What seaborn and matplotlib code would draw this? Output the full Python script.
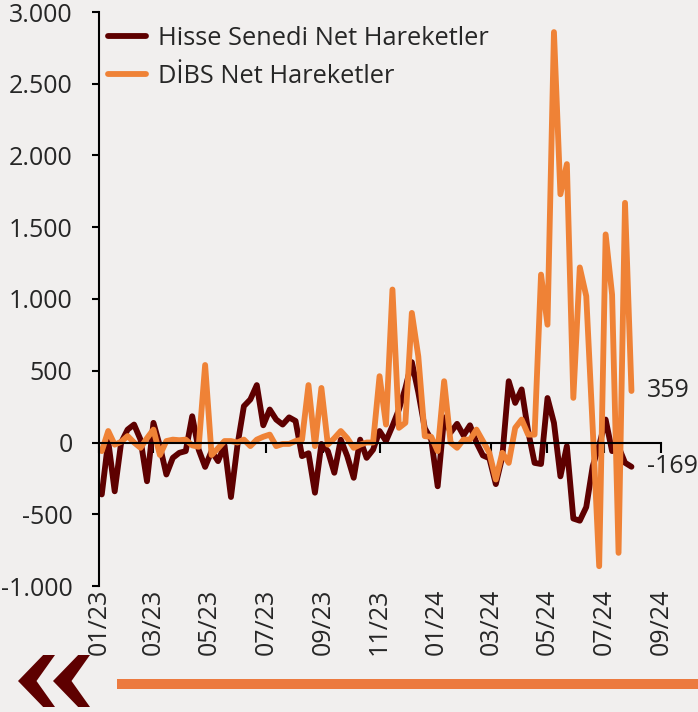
import numpy as np
import pandas as pd
import matplotlib
matplotlib.use("Agg")
import matplotlib.pyplot as plt
import matplotlib.dates as mdates
from matplotlib.patches import Polygon, Rectangle
from matplotlib.ticker import FuncFormatter
from matplotlib.lines import Line2D
import seaborn as sns

# ---- data (weekly, USD mn) ----
start_date = "2023-01-04"
n_weeks = 83
hisse = [-362, 10, -340, 0, 90, 125, 20, -270, 137, -25,
         -223, -107, -72, -60, 183, -50, -170, -60, -130, -20,
         -380, -20, 253, 300, 400, 120, 230, 160, 125, 175,
         150, -95, -75, -350, -10, -60, -211, 20, -95, -246,
         20, -107, -50, 80, 10, 115, 230, 380, 560, 350,
         100, 20, -305, 175, 70, 130, 50, 120, 0, -90,
         -110, -290, -100, 427, 276, 370, 80, -142, -150, 310,
         137, -236, -25, -530, -545, -450, -165, -20, 160, -60,
         -30, -141, -169]
dibs = [-60, 80, -15, 5, 45, 0, -37, 30, 90, -87,
        10, 20, 16, 20, -20, -30, 540, -87, -40, 10,
        10, 0, 20, -25, 20, 40, 55, -25, -10, -10,
        10, 20, 400, -25, 380, -15, 30, 80, 30, -37,
        -15, 0, 0, 462, 125, 1066, 102, 137, 903, 600,
        44, 40, -60, 427, 0, -37, 20, 20, 90, 10,
        -72, -258, -72, -142, 102, 160, 55, 55, 1170, 821,
        2860, 1730, 1940, 311, 1220, 1020, 100, -862, 1450, 1030,
        -769, 1670, 359]
series_names = ["Hisse Senedi Net Hareketler", "DİBS Net Hareketler"]
y_ticks = [-1000, -500, 0, 500, 1000, 1500, 2000, 2500, 3000]

dates = pd.date_range(start_date, periods=n_weeks, freq="7D")
df = pd.DataFrame({
    "Tarih": np.concatenate([dates, dates]),
    "Deger": hisse + dibs,
    "Seri": [series_names[0]] * n_weeks + [series_names[1]] * n_weeks,
})

BROWN = "#5E0000"
ORANGE = "#EF8236"
BG = "#F1EFEE"

sns.set_style("white")
plt.rcParams["font.family"] = ["Open Sans", "DejaVu Sans"]

W, H = 698, 712
fig = plt.figure(figsize=(W / 100, H / 100), dpi=100, facecolor=BG)
ax = fig.add_axes([99 / W, 1 - 586 / H, (661 - 99) / W, (586 - 12) / H])
ax.set_facecolor(BG)

sns.lineplot(data=df, x="Tarih", y="Deger", hue="Seri",
             palette={series_names[0]: BROWN, series_names[1]: ORANGE},
             linewidth=4.2, ax=ax, legend=False,
             solid_joinstyle="round", solid_capstyle="round")

ax.set_xlim(pd.Timestamp("2023-01-01"), pd.Timestamp("2024-09-01"))
ax.set_ylim(-1000, 3000)
ax.set_xlabel("")
ax.set_ylabel("")

FS = 18.3
FT = 18
# y axis
ax.set_yticks(y_ticks)
ax.yaxis.set_major_formatter(FuncFormatter(lambda v, p: f"{int(v):,}".replace(",", ".")))
ax.tick_params(axis="y", direction="out", length=5, width=1.5, color="black",
               labelsize=FT, pad=14, left=True)
for s in ["top", "right"]:
    ax.spines[s].set_visible(False)
ax.spines["left"].set_color("black")
ax.spines["left"].set_linewidth(1.5)

# x axis line at zero with tick marks
ax.spines["bottom"].set_position(("data", 0))
ax.spines["bottom"].set_color("black")
ax.spines["bottom"].set_linewidth(1.5)
ax.xaxis.set_major_locator(mdates.MonthLocator(bymonth=[1, 3, 5, 7, 9, 11]))
ax.xaxis.set_major_formatter(mdates.DateFormatter("%m/%y"))
ax.tick_params(axis="x", direction="out", length=7, width=1.5, color="black",
               labelbottom=False, bottom=True)

# labels at bottom of plot area
sec = ax.secondary_xaxis("bottom")
sec.xaxis.set_major_locator(mdates.MonthLocator(bymonth=[1, 3, 5, 7, 9, 11]))
sec.xaxis.set_major_formatter(mdates.DateFormatter("%m/%y"))
sec.tick_params(axis="x", length=0, labelsize=FT, pad=2, labelrotation=90)
sec.spines["bottom"].set_visible(False)

# end labels
for vals in (dibs, hisse):
    ax.annotate(f"{vals[-1]}", xy=(dates[-1], vals[-1]), xytext=(11, 0),
                textcoords="offset points", ha="left", va="center", fontsize=FT,
                annotation_clip=False)

handles = [Line2D([], [], color=BROWN, lw=4.2, solid_capstyle="round"),
           Line2D([], [], color=ORANGE, lw=4.2, solid_capstyle="round")]
ax.legend(handles, series_names, loc="upper left", bbox_to_anchor=(0.016, 0.975),
          frameon=False, fontsize=FS, handlelength=1.5, handletextpad=0.45,
          labelspacing=0.5, borderpad=0, borderaxespad=0)

# decorations at bottom
fig.patches.append(Rectangle((117 / W, 1 - 689 / H), (W - 117) / W, 10 / H,
                             transform=fig.transFigure, color="#EC7A3F", lw=0))
chev = [(0, 0.5), (0.68, 1.0), (1.0, 1.0), (0.5, 0.5), (1.0, 0.0), (0.68, 0.0)]
for x0 in (18, 53):
    pts = [((x0 + px * 37) / W, 1 - (707 - py * 52) / H) for px, py in chev]
    fig.patches.append(Polygon(pts, closed=True, transform=fig.transFigure,
                               color="#5E0000", lw=0))

fig.savefig("out.png", dpi=100, facecolor=BG)
